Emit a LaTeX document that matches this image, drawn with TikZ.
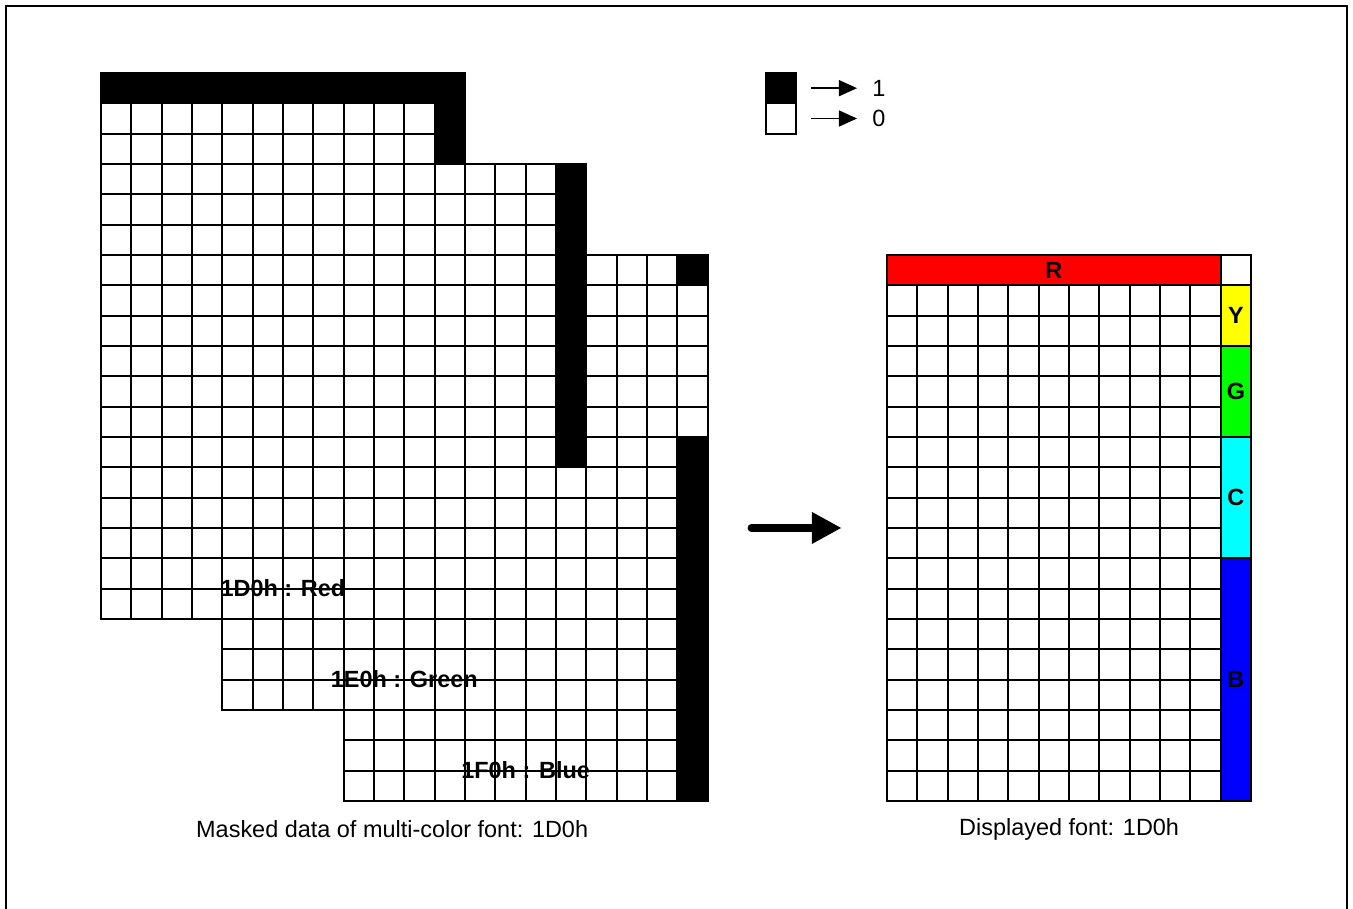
\documentclass[tikz,border=0pt]{standalone}
\usepackage{fontspec}
\setmainfont{Liberation Sans}
\usetikzlibrary{arrows.meta}
\definecolor{bar red}{RGB}{255,0,0}
\definecolor{bar yellow}{RGB}{255,255,0}
\definecolor{bar green}{RGB}{0,255,0}
\definecolor{bar cyan}{RGB}{0,255,255}
\definecolor{bar blue}{RGB}{0,0,255}
\tikzset{grid line/.style={draw=black, line width=0.95pt, line cap=rect}}
\tikzset{mask cell/.style={fill=black}}
\tikzset{layer label/.style={font=\bfseries}}
\tikzset{bar part/.style={draw=black, line width=0.95pt, inner sep=0pt, outer sep=0pt,
    minimum width=0.5cm, anchor=north west, font=\bfseries}}
\tikzset{key box/.style={draw=black, line width=0.95pt, inner sep=0pt, outer sep=0pt, minimum size=0.5cm}}
\tikzset{key arrow/.style={line width=0.7pt, -{Triangle[length=8.5pt,width=7.5pt]},
    shorten <=7pt, shorten >=7pt}}
\tikzset{big arrow/.style={line width=3.75pt, line cap=round, -{Triangle[length=14pt,width=14pt]}}}
\newcommand{\layergrid}[2]{%
  \foreach \i in {0,...,12} \draw [grid line] (#1+\i,#2) -- (#1+\i,#2+18);
  \foreach \j in {0,...,18} \draw [grid line] (#1,#2+\j) -- (#1+12,#2+\j);
}

\begin{document}
\fontsize{11}{13}\selectfont
\begin{tikzpicture}
      [x=0.5cm, y=-0.5cm]
      \useasboundingbox (-3.33,-2.407) rectangle (41.28,27.56);
      \draw [line width=1pt] (-3.13,-2.21) rectangle (41.08,28);

      % masked layers
      \node [layer label] (red label)   at ( 6,17) {1D0h : Red};
      \node [layer label] (green label) at (10,20) {1E0h : Green};
      \node [layer label] (blue label)  at (14,23) {1F0h : Blue};

      \layergrid{0}{0}
      \layergrid{4}{3}
      \layergrid{8}{6}

      \fill [mask cell] ( 0, 0) rectangle (12, 1);
      \fill [mask cell] (11, 1) rectangle (12, 3);
      \fill [mask cell] (15, 3) rectangle (16,13);
      \fill [mask cell] (19, 6) rectangle (20, 7);
      \fill [mask cell] (19,12) rectangle (20,24);

      \node (masked caption) at (9.6,24.93) {Masked data of multi-color font: 1D0h};

      % legend
      \node [key box, fill=black] (key1) at (22.43,0.5) {};
      \node [key box, fill=white] (key0) at (22.43,1.5) {};
      \node [anchor=west, inner sep=0pt] (val1) at (25.42,0.5) {1};
      \node [anchor=west, inner sep=0pt] (val0) at (25.42,1.5) {0};
      \draw [key arrow] (key1) -- (val1);
      \draw [key arrow] (key0) -- (val0);

      \coordinate (stack east) at (21.45,15);
      \coordinate (shown west) at (24.42,15);
      \draw [big arrow] (stack east) -- (shown west);

      % displayed font
      \begin{scope}[shift={(25.92,6)}]
        \foreach \i in {0,...,11} \draw [grid line] (\i,1) -- (\i,18);
        \foreach \j in {1,...,18} \draw [grid line] (0,\j) -- (11,\j);

        \node [bar part, fill=bar red, minimum width=5.5cm, minimum height=0.5cm] (rbar) at ( 0, 0) {R};
        \node [bar part, fill=white,      minimum height=0.5cm] (wbar) at (11, 0) {};
        \node [bar part, fill=bar yellow, minimum height=1cm]   (ybar) at (11, 1) {Y};
        \node [bar part, fill=bar green,  minimum height=1.5cm] (gbar) at (11, 3) {G};
        \node [bar part, fill=bar cyan,   minimum height=2cm]   (cbar) at (11, 6) {C};
        \node [bar part, fill=bar blue,   minimum height=4cm]   (bbar) at (11,10) {B};

        \node (shown caption) at (6,18.93) {Displayed font: 1D0h};
      \end{scope}
\end{tikzpicture}
\end{document}
